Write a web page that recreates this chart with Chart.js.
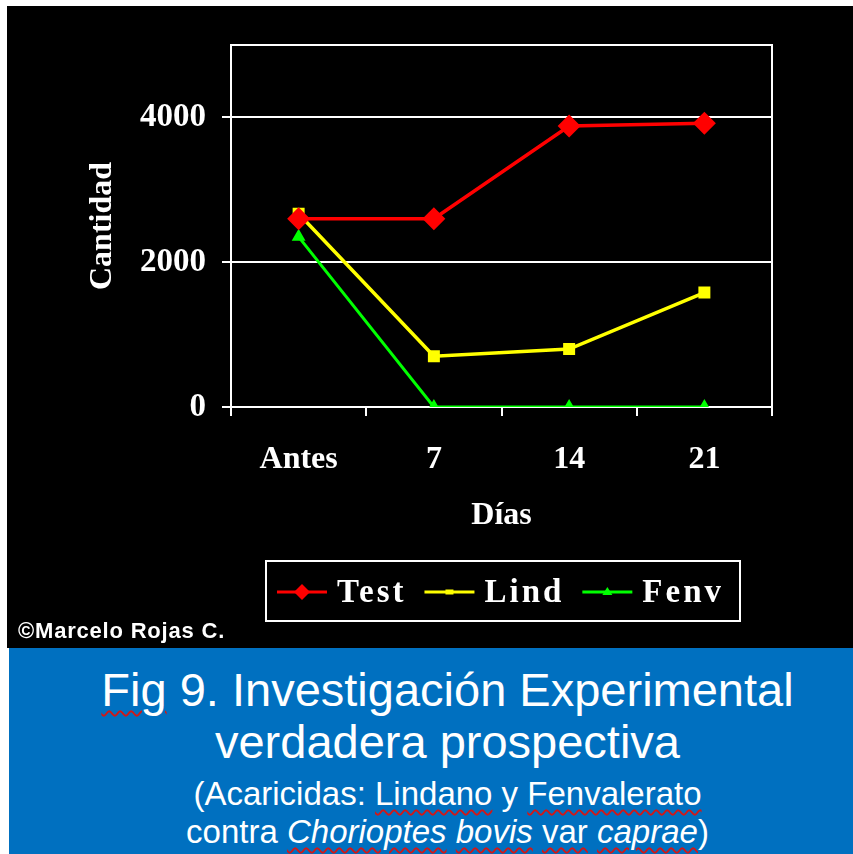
<!DOCTYPE html>
<html>
<head>
<meta charset="utf-8">
<script src="https://cdn.jsdelivr.net/npm/chart.js@4.4.1/dist/chart.umd.min.js"></script>
<style>
html, body { margin: 0; padding: 0; background: #fff; width: 853px; height: 854px; overflow: hidden; }
#negro { position: absolute; left: 7px; top: 6px; width: 846px; height: 642px; background: #000; }
#grafico { position: absolute; left: 0; top: 0; }
#copy { position: absolute; left: 18px; top: 618px; line-height: 22px; color: #fff; letter-spacing: 0.8px;
  font: bold 22px "Liberation Sans", Arial, sans-serif; white-space: nowrap; }
#banda { position: absolute; left: 9px; top: 648px; width: 844px; height: 206px; background: #0070c0; overflow: hidden; }
.lin { position: absolute; left: 12px; width: 853px; text-align: center; color: #fff;
  font-family: "Liberation Sans", Arial, sans-serif; white-space: nowrap; }
.sub { text-decoration: underline wavy #d01818; text-decoration-thickness: 1.5px; text-underline-offset: 4px; }
</style>
</head>
<body>
<div id="negro"></div>
<canvas id="grafico" width="853" height="648"></canvas>
<div id="copy">©Marcelo Rojas C.</div>
<div id="banda">
  <div class="lin" style="top:18px;font-size:47px;line-height:47px;"><span class="sub">Fig</span> 9. Investigación Experimental</div>
  <div class="lin" style="top:70px;font-size:47px;line-height:47px;">verdadera prospectiva</div>
  <div class="lin" style="top:129px;font-size:33px;line-height:33px;">(Acaricidas: <span class="sub">Lindano</span> y <span class="sub">Fenvalerato</span></div>
  <div class="lin" style="top:167px;font-size:33px;line-height:33px;">contra <i class="sub">Chorioptes</i> <i class="sub">bovis</i> <span class="sub">var</span> <i class="sub">caprae</i>)</div>
</div>
<script>
// Días
var dias = ['Antes', '7', '14', '21'];
// Cantidad por grupo
var test = [2600, 2600, 3880, 3920];
var lind = [2670, 700, 800, 1580];
var fenv = [2350, 0, 0, 0];
var marcasY = [0, 2000, 4000];

var fuente = '"Liberation Serif", "Times New Roman", serif';

function marca(ctx, estilo, x, y, r, color) {
    ctx.save();
    ctx.fillStyle = color;
    ctx.beginPath();
    if (estilo === 'rectRot') {
        ctx.moveTo(x, y - r); ctx.lineTo(x + r, y); ctx.lineTo(x, y + r); ctx.lineTo(x - r, y);
    } else if (estilo === 'rect') {
        ctx.rect(x - r * 0.8, y - r * 0.5, r * 1.6, r);
    } else {
        ctx.moveTo(x, y - r); ctx.lineTo(x + r, y + r * 0.6); ctx.lineTo(x - r, y + r * 0.6);
    }
    ctx.closePath();
    ctx.fill();
    ctx.restore();
}

var marco = {
    id: 'marco',
    afterDraw: function (chart) {
        var ctx = chart.ctx, a = chart.chartArea;
        ctx.save();
        ctx.strokeStyle = '#fff';
        ctx.lineWidth = 2;
        ctx.beginPath();
        ctx.moveTo(a.left, a.top); ctx.lineTo(a.right, a.top); ctx.lineTo(a.right, a.bottom);
        ctx.stroke();
        // leyenda
        ctx.strokeRect(266, 561, 474, 60);
        ctx.font = 'bold 33px ' + fuente;
        ctx.letterSpacing = '3px';
        ctx.textBaseline = 'middle';
        ctx.fillStyle = '#fff';
        var x = 277, y = 592;
        chart.data.datasets.forEach(function (ds) {
            ctx.strokeStyle = ds.borderColor;
            ctx.lineWidth = 3;
            ctx.beginPath(); ctx.moveTo(x, y); ctx.lineTo(x + 50, y); ctx.stroke();
            marca(ctx, ds.pointStyle, x + 25, y, ds.pointStyle === 'rectRot' ? 8 : 5, ds.borderColor);
            ctx.fillText(ds.label, x + 60, y + 1);
            x += 60 + ctx.measureText(ds.label).width + 18;
        });
        ctx.restore();
    }
};

var ctx = document.getElementById('grafico');
var grafico = new Chart(ctx, {
    type: 'line',
    data: {
        labels: dias,
        datasets: [
            { label: 'Test', data: test, borderColor: '#ff0000', backgroundColor: '#ff0000',
              pointStyle: 'rectRot', pointRadius: 9, borderWidth: 3.5 },
            { label: 'Lind', data: lind, borderColor: '#ffff00', backgroundColor: '#ffff00',
              pointStyle: 'rect', pointRadius: 6, borderWidth: 3.5 },
            { label: 'Fenv', data: fenv, borderColor: '#00ff00', backgroundColor: '#00ff00',
              pointStyle: 'triangle', pointRadius: 5, borderWidth: 3 }
        ]
    },
    options: {
        responsive: false,
        animation: false,
        layout: { padding: { left: 0, right: 81, top: 45, bottom: 113 } },
        elements: { line: { tension: 0 }, point: { borderWidth: 0 } },
        plugins: {
            legend: { display: false },
            tooltip: { enabled: false }
        },
        scales: {
            x: {
                offset: true,
                afterFit: function (s) { s.height = 128; },
                grid: { offset: true, drawOnChartArea: false, color: '#fff', lineWidth: 2, tickLength: 9 },
                border: { color: '#fff', width: 2 },
                ticks: { color: '#fff', font: { family: fuente, size: 32, weight: 'bold' }, padding: 25 },
                title: { display: true, text: 'Días', color: '#fff',
                         font: { family: fuente, size: 32, weight: 'bold' }, padding: { top: 0, bottom: 0 } }
            },
            y: {
                min: 0,
                max: 5000,
                afterFit: function (s) { s.width = 231; },
                afterBuildTicks: function (s) { s.ticks = marcasY.map(function (v) { return { value: v }; }); },
                grid: { color: '#fff', lineWidth: 2, tickLength: 9 },
                border: { color: '#fff', width: 2 },
                ticks: { color: '#fff', font: { family: fuente, size: 33, weight: 'bold' }, padding: 16,
                         callback: function (v) { return String(v); } },
                title: { display: true, text: 'Cantidad', color: '#fff',
                         font: { family: fuente, size: 32, weight: 'bold' }, padding: { top: 84, bottom: 0 } }
            }
        }
    },
    plugins: [marco]
});
</script>
</body>
</html>
